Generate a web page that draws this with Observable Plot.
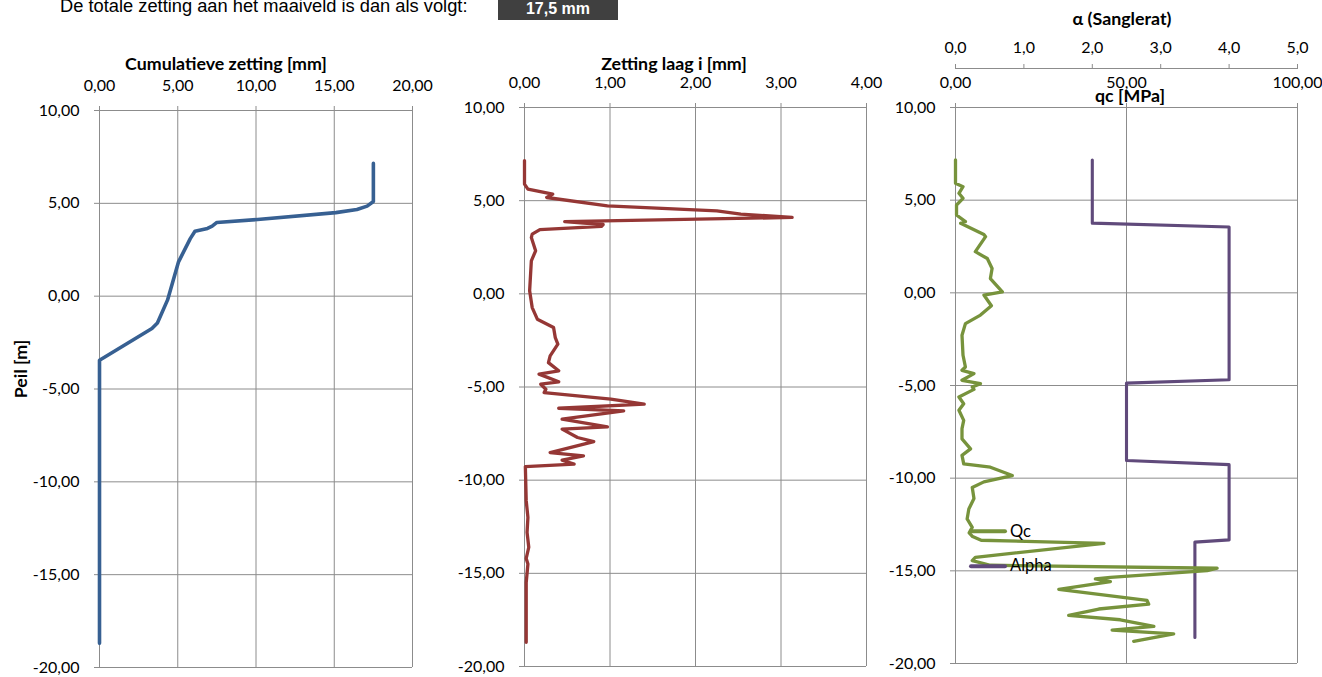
<!DOCTYPE html>
<html>
<head>
<meta charset="utf-8">
<script src="https://cdn.jsdelivr.net/npm/d3@7"></script>
<script src="https://cdn.jsdelivr.net/npm/@observablehq/plot@0.6"></script>
<style>
  body { margin: 0; background: #fff; }
  #root { position: relative; width: 1322px; height: 677px; overflow: hidden; font-family: Lato, "Open Sans", sans-serif; }
  .abs { position: absolute; }
  .title { position: absolute; font-weight: bold; font-size: 17.8px; white-space: nowrap; transform: translate(-50%, -50%); color: #000; }
  .leg { position: absolute; font-size: 16.5px; white-space: nowrap; transform: translateY(-50%); color: #000; }
  .sw { position: absolute; height: 3.5px; width: 38px; transform: translateY(-50%); border-radius: 2px; }
</style>
</head>
<body>
<div id="root"></div>
<script>
// ---------- data ----------
const yTicks = [-20, -15, -10, -5, 0, 5, 10];
const cumTicks = [0, 5, 10, 15, 20];
const laagTicks = [0, 1, 2, 3, 4];
const qcTicks = [0, 50, 100];
const alphaTicks = [0, 1, 2, 3, 4, 5];

// Cumulatieve zetting [mm] vs Peil [m]
const peilCum    = [7.15, 5.1, 4.85, 4.67, 4.5, 4.13, 3.97, 3.77, 3.65, 3.5, 3.1, 1.85, -0.2, -1.44, -1.74, -3.45, -18.7];
const cumZetting = [17.5, 17.5, 17.1, 16.45, 15.1, 10.1, 7.5, 7.2, 6.9, 6.1, 5.8, 5.05, 4.35, 3.7, 3.35, 0.0, 0.0];

// Zetting laag i [mm] vs Peil [m]
const peilLaag = [7.15, 5.89, 5.62, 5.35, 5.17, 4.72, 4.45, 4.28, 4.1, 3.88, 3.72, 3.62, 3.45, 3.2, 3.02, 2.31, 1.77, 0.16,
  -0.74, -1.36, -1.81, -2.35, -2.7, -3.33, -3.69, -4.13, -4.31, -4.72, -4.85, -5.12, -5.3, -5.65, -5.92, -6.14, -6.28,
  -6.73, -7.14, -7.26, -7.71, -7.93, -8.52, -8.7, -8.93, -9.14, -9.27, -11.1, -12.0, -12.8, -13.6, -14.2, -14.5, -15.5, -18.7];
const zettingLaag = [0.0, 0.0, 0.04, 0.33, 0.26, 0.97, 2.25, 2.53, 3.13, 0.47, 0.92, 0.9, 0.18, 0.09, 0.08, 0.13, 0.08, 0.06,
  0.09, 0.15, 0.34, 0.36, 0.39, 0.3, 0.28, 0.4, 0.17, 0.4, 0.19, 0.25, 0.23, 1.01, 1.4, 0.4, 1.16,
  0.44, 0.97, 0.44, 0.62, 0.81, 0.3, 0.69, 0.44, 0.58, 0.01, 0.02, 0.04, 0.03, 0.05, 0.02, 0.04, 0.02, 0.02];

// Qc [MPa] vs Peil [m]
const peilQc = [7.17, 5.91, 5.73, 5.37, 5.1, 4.74, 4.2, 3.84, 3.75, 3.15, 3.03, 2.76, 2.22, 1.85, 1.31, 0.77, 0.05, -0.12,
  -0.7, -1.2, -1.66, -2.29, -3.37, -4.0, -4.18, -4.36, -4.72, -4.9, -5.08, -5.21, -5.62, -5.98, -6.34, -6.88, -7.33,
  -7.88, -8.42, -8.77, -9.23, -9.41, -9.86, -10.2, -10.5, -11.1, -11.66, -12.2, -12.65, -12.95, -13.15, -13.35, -13.52,
  -14.27, -14.45, -14.7, -14.86, -14.99, -15.35, -15.44, -15.58, -16.0, -16.6, -16.8, -17.06, -17.4, -17.64, -18.0,
  -18.2, -18.4, -18.8];
const qc = [0.0, 0.0, 2.2, 1.0, 2.2, 0.3, 0.3, 2.9, 1.5, 8.3, 8.8, 7.8, 5.8, 9.3, 10.7, 10.2, 13.7, 8.3,
  10.5, 7.3, 2.9, 1.9, 2.2, 2.9, 1.9, 5.4, 1.9, 7.3, 4.9, 5.4, 1.0, 2.4, 1.0, 2.4, 1.9,
  1.9, 4.4, 1.9, 2.4, 10.2, 16.6, 8.3, 4.9, 5.4, 3.9, 3.4, 4.9, 4.0, 5.0, 7.5, 43.4,
  5.8, 4.9, 10.2, 76.5, 73.6, 45.3, 40.9, 45.3, 30.2, 56.0, 56.5, 41.9, 33.1, 48.2, 58.0,
  45.8, 63.8, 52.1];

// Alpha (Sanglerat) vs Peil [m]
const peilAlpha = [7.17, 3.76, 3.55, -4.69, -4.87, -9.05, -9.27, -13.33, -13.45, -18.6];
const alpha     = [2.0, 2.0, 4.0, 4.0, 2.5, 2.5, 4.0, 4.0, 3.5, 3.5];

// ---------- drawing ----------
const GRID = "#8c8c8c";
const FONT = "Lato, 'Open Sans', sans-serif";
const fmt2 = d => d.toFixed(2).replace(".", ",");
const fmt1 = d => d.toFixed(1).replace(".", ",");
const rows = (ys, xs, k = 1) => ys.map((p, i) => ({peil: p, v: xs[i] * k}));

function panel({width, ml, mr, mt, mb, xDomain, xTicks, series, yPad = 15, xPad = 15}) {
  return Plot.plot({
    width, height: 677, marginLeft: ml, marginRight: mr, marginTop: mt, marginBottom: mb,
    style: {fontFamily: FONT, fontSize: "16px", color: "#000", background: "none", overflow: "visible"},
    x: {domain: xDomain, label: null},
    y: {domain: [-20, 10], label: null},
    marks: [
      Plot.gridX(xTicks, {stroke: GRID, strokeOpacity: 1, strokeWidth: 1}),
      Plot.gridY(yTicks, {stroke: GRID, strokeOpacity: 1, strokeWidth: 1}),
      Plot.axisX(xTicks, {anchor: "top", tickSize: 5, tickPadding: xPad, tickFormat: fmt2, stroke: GRID, fill: "#000", label: null}),
      Plot.axisY(yTicks, {anchor: "left", tickSize: 5, tickPadding: yPad, tickFormat: fmt2, stroke: GRID, fill: "#000", label: null}),
      ...series.map(s => Plot.line(s.data, {x: "v", y: "peil", stroke: s.color, strokeWidth: s.w, strokeLinejoin: "round", strokeLinecap: "round"}))
    ]
  });
}

const root = document.getElementById("root");
function place(node, left, top) {
  node.classList.add("abs");
  node.style.left = left + "px";
  node.style.top = top + "px";
  root.appendChild(node);
}

place(panel({width: 460, ml: 99, mr: 48, mt: 110, mb: 10, xDomain: [0, 20], xTicks: cumTicks,
  series: [{data: rows(peilCum, cumZetting), color: "#376092", w: 3.6}]}), 0, 0);

place(panel({width: 440, ml: 64, mr: 34, mt: 107, mb: 11, xDomain: [0, 4], xTicks: laagTicks,
  series: [{data: rows(peilLaag, zettingLaag), color: "#953735", w: 3.3}]}), 460, 0);

place(panel({width: 422, ml: 55, mr: 25, mt: 107, mb: 14, xDomain: [0, 100], xTicks: qcTicks,
  series: [
    {data: rows(peilAlpha, alpha, 20), color: "#604A7B", w: 3.1},
    {data: rows(peilQc, qc), color: "#77933C", w: 3.3}
  ]}), 900, 0);

// secondary axis: alpha (Sanglerat), same width as the qc axis
place(Plot.plot({
  width: 422, height: 80, marginLeft: 55, marginRight: 25, marginTop: 68, marginBottom: 10,
  style: {fontFamily: FONT, fontSize: "16px", color: "#000", background: "none", overflow: "visible"},
  x: {domain: [0, 5], label: null},
  y: {domain: [0, 1], axis: null},
  marks: [
    Plot.ruleY([1], {stroke: GRID}),
    Plot.axisX(alphaTicks, {anchor: "top", tickSize: 5, tickPadding: 11, tickFormat: fmt1, stroke: GRID, fill: "#000", label: null})
  ]
}), 900, 0);

// ---------- texts ----------
function addText(cls, text, x, y, extra = {}) {
  const d = document.createElement("div");
  d.className = cls;
  d.textContent = text;
  d.style.left = x + "px";
  d.style.top = y + "px";
  Object.assign(d.style, extra);
  root.appendChild(d);
  return d;
}
addText("title", "Cumulatieve zetting [mm]", 226, 63);
addText("title", "Zetting laag i [mm]", 674, 63);
addText("title", "qc [MPa]", 1130, 95);
addText("title", "α (Sanglerat)", 1122, 18);
addText("title", "Peil [m]", 20, 369, {transform: "translate(-50%, -50%) rotate(-90deg)"});

// legend
const sw1 = document.createElement("div"); sw1.className = "sw"; sw1.style.left = "969px"; sw1.style.top = "531px"; sw1.style.background = "#77933C"; root.appendChild(sw1);
const sw2 = document.createElement("div"); sw2.className = "sw"; sw2.style.left = "969px"; sw2.style.top = "566px"; sw2.style.background = "#604A7B"; root.appendChild(sw2);
addText("leg", "Qc", 1010, 531);
addText("leg", "Alpha", 1010, 565);

// header
addText("abs", "De totale zetting aan het maaiveld is dan als volgt:", 60, -3,
  {fontFamily: "'Liberation Sans', Arial, sans-serif", fontSize: "18.3px", lineHeight: "18px", whiteSpace: "nowrap"});
const box = addText("abs", "17,5 mm", 498, -4,
  {width: "120px", height: "24px", background: "#404040", color: "#fff", fontFamily: "'Liberation Sans', Arial, sans-serif",
   fontWeight: "bold", fontSize: "16px", lineHeight: "26px", textAlign: "center"});
</script>
</body>
</html>
